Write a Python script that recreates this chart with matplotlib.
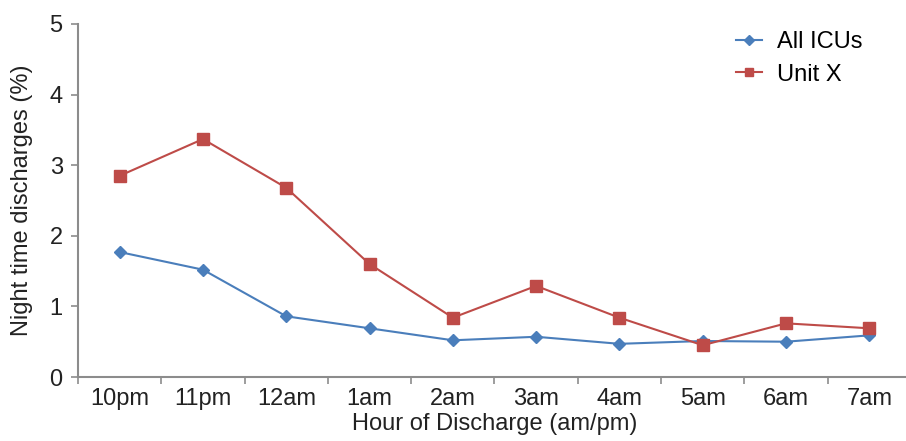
import matplotlib.pyplot as plt
import numpy as np

hours = ['10pm', '11pm', '12am', '1am', '2am', '3am', '4am', '5am', '6am', '7am']
all_icus = [1.77, 1.52, 0.86, 0.69, 0.52, 0.57, 0.47, 0.51, 0.50, 0.59]
unit_x = [2.85, 3.37, 2.68, 1.60, 0.84, 1.29, 0.84, 0.45, 0.76, 0.69]

plt.rcParams['font.family'] = ['Liberation Sans', 'DejaVu Sans']
axis_col = '#8c8c8c'
txt_col = '#222222'

fig = plt.figure(figsize=(9.06, 4.41), dpi=100)
ax = fig.add_axes([0.0861, 0.1451, 0.9194, 0.8005])

x = np.arange(len(hours))
ax.plot(x, all_icus, color='#4a7ebb', marker='D', markersize=6.5, linewidth=1.5, label='All ICUs')
ax.plot(x, unit_x, color='#be4b48', marker='s', markersize=8, linewidth=1.5, label='Unit X')

ax.set_xlim(-0.5, len(hours) - 0.5)
ax.set_ylim(0, 5)
ax.set_yticks(range(6))

# category boundaries carry the tick marks, labels sit in the middle
ax.set_xticks(np.arange(-0.5, len(hours)), labels=[''] * (len(hours) + 1))
ax.set_xticks(x, labels=hours, minor=True)
ax.tick_params(axis='x', which='major', length=5, color=axis_col, width=1.2)
ax.tick_params(axis='x', which='minor', length=0, labelsize=17, pad=8, colors=txt_col)
ax.tick_params(axis='y', length=5, color=axis_col, width=1.2, labelsize=17, pad=6, labelcolor=txt_col)

for side in ['top', 'right']:
    ax.spines[side].set_visible(False)
for side in ['left', 'bottom']:
    ax.spines[side].set_color(axis_col)
    ax.spines[side].set_linewidth(1.5)

ax.set_xlabel('Hour of Discharge (am/pm)', fontsize=17, color=txt_col, labelpad=2)
ax.set_ylabel('Night time discharges (%)', fontsize=17, color=txt_col, labelpad=12)

ax.legend(loc='upper left', bbox_to_anchor=(0.765, 1.04), frameon=False, fontsize=17,
          handlelength=1.1, handletextpad=0.6, labelspacing=0.45, markerscale=0.8)

fig.savefig('out.png', dpi=100)
